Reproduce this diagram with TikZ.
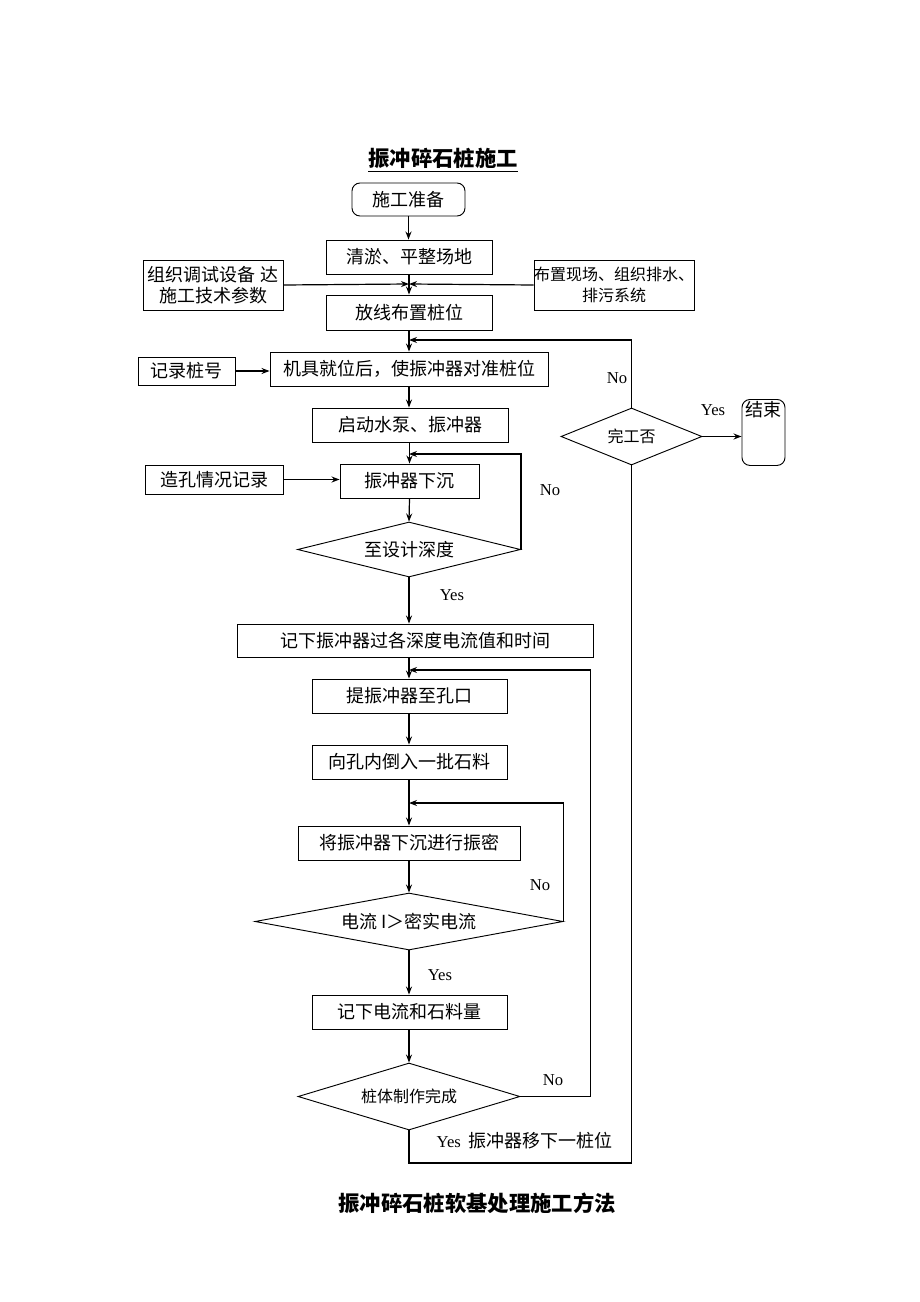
\documentclass[tikz,border=0pt]{standalone}
\usepackage{fontspec}
\setmainfont{Liberation Serif}
\newfontfamily\cjk{Noto Sans CJK SC}
\usepackage{tikz}
\usetikzlibrary{
  positioning,
  calc,
  arrows.meta,
  shapes.geometric
}
\tikzstyle{box}=[draw, line width=0.7pt, inner sep=0pt, font=\cjk\fontsize{13.5}{16}\selectfont]
\tikzstyle{rbox}=[box, rounded corners=6pt]
\tikzstyle{dia}=[draw, diamond, aspect=4, line width=0.7pt, inner sep=0pt, font=\cjk\fontsize{13.5}{16}\selectfont]
\tikzstyle{arr}=[-{Stealth[length=6pt,width=4.5pt]}, line width=0.9pt]
\tikzstyle{conn}=[line width=0.9pt]
\tikzstyle{yn}=[font=\fontsize{12.5}{14}\selectfont]
\tikzstyle{ttl}=[font=\cjk\bfseries\fontsize{16}{19}\selectfont]

\begin{document}
\begin{tikzpicture}[x=0.75pt, y=-0.75pt]
      \path[use as bounding box, fill=white] (0,0) rectangle (920,1302);

      % 标题
      \node[ttl] (title) at (443,160) {\underline{振冲碎石桩施工}};
      \node[ttl] (caption) at (477,1203) {振冲碎石桩软基处理施工方法};

      % 准备阶段
      \node[rbox, minimum width=84.75pt, minimum height=24.75pt] (prep) at (408.5,199.5) {施工准备};
      \node[box, minimum width=124.5pt, minimum height=25.5pt] (clear) at (409,257) {清淤、平整场地};
      \node[box, minimum width=105pt, minimum height=37.5pt, align=center] (equip) at (213,285) {组织调试设备\ 达\\施工技术参数};
      \node[box, minimum width=120pt, minimum height=37.5pt, align=center, font=\cjk\fontsize{12}{16}\selectfont] (site) at (614,285) {布置现场、组织排水、\\排污系统};
      \node[box, minimum width=124.5pt, minimum height=26.25pt] (layout) at (409,312.5) {放线布置桩位};

      % 就位与下沉
      \node[box, minimum width=208.5pt, minimum height=25.5pt] (machine) at (409,369) {机具就位后，使振冲器对准桩位};
      \node[box, minimum width=72.75pt, minimum height=21pt] (pileno) at (186.5,371) {记录桩号};
      \node[box, minimum width=147pt, minimum height=25.5pt] (pump) at (410,425) {启动水泵、振冲器};
      \node[box, minimum width=104.25pt, minimum height=25.5pt] (sink) at (409.5,481) {振冲器下沉};
      \node[box, minimum width=103.5pt, minimum height=21.75pt] (hole) at (214,479.5) {造孔情况记录};
      \node[dia, minimum width=167.25pt, minimum height=41.25pt] (depth) at (409,549.5) {至设计深度};

      % 完工判断
      \node[dia, minimum width=105.75pt, minimum height=42.75pt, font=\cjk\fontsize{12}{14}\selectfont] (done) at (631.5,436.5) {完工否};
      \node[rbox, minimum width=32.25pt, anchor=north, inner ysep=3pt, text height=9.5pt, text depth=34pt] (end) at (763.5,399) {结束};

      % 填料与振密
      \node[box, minimum width=267pt, minimum height=24.75pt] (rec2) at (415,640.5) {记下振冲器过各深度电流值和时间};
      \node[box, minimum width=146.25pt, minimum height=25.5pt] (lift) at (409.5,696) {提振冲器至孔口};
      \node[box, minimum width=146.25pt, minimum height=25.5pt] (pour) at (409.5,762) {向孔内倒入一批石料};
      \node[box, minimum width=166.5pt, minimum height=25.5pt] (vib) at (409,843) {将振冲器下沉进行振密};
      \node[dia, minimum width=231pt, minimum height=42.75pt] (current) at (409,921.5) {电流 I＞密实电流};
      \node[box, minimum width=146.25pt, minimum height=25.5pt] (rec3) at (409.5,1012) {记下电流和石料量};
      \node[dia, minimum width=166.5pt, minimum height=50.25pt, font=\cjk\fontsize{12}{14}\selectfont] (pile) at (409,1096.5) {桩体制作完成};

      % 汇合点
      \coordinate (m1) at (409,284);
      \coordinate (j1) at (409,340);
      \coordinate (j2) at (409,454);
      \coordinate (j3) at (409,670);
      \coordinate (j4) at (409,803);
      \coordinate (b1) at (409,1163);

      % 主流程
      \draw[arr] (prep.south) -- (prep.south |- clear.north);
      \draw[arr] (clear.south) -- (layout.north);
      \draw[arr] (equip.east) -- (m1);
      \draw[arr] (site.west) -- (m1);
      \draw[arr] (layout.south) -- (machine.north);
      \draw[arr] (pileno.east) -- (pileno.east -| machine.west);
      \draw[arr] (machine.south) -- (machine.south |- pump.north);
      \draw[arr] (pump.south -| sink.north) -- (sink.north);
      \draw[arr] (hole.east) -- (hole.east -| sink.west);
      \draw[arr] (sink.south) -- (depth.north);
      \draw[arr] (depth.south) -- (depth.south |- rec2.north);
      \draw[arr] (depth.south |- rec2.south) -- (lift.north -| depth.south);
      \draw[arr] (lift.south -| depth.south) -- (pour.north -| depth.south);
      \draw[conn] (pour.south -| depth.south) -- (j4);
      \draw[arr] (j4) -- (vib.north);
      \draw[arr] (vib.south) -- (current.north);
      \draw[arr] (current.south) -- (current.south |- rec3.north);
      \draw[arr] (current.south |- rec3.south) -- (pile.north);

      % 回路
      \draw[arr] (done.north) |- (j1);
      \draw[arr] (done.east) -- (done.east -| end.west);
      \draw[arr] (depth.east) |- (j2);
      \draw[arr] (current.east) |- (j4);
      \draw[arr] (pile.east) -- ++(70,0) |- (j3);
      \draw[conn] (pile.south) -- (b1) -| (done.south);

      % Yes / No
      \node[yn] (no1) at (617,378) {No};
      \node[yn] (yes1) at (713,410) {Yes};
      \node[yn] (no2) at (550,490) {No};
      \node[yn] (yes2) at (452,595) {Yes};
      \node[yn] (no3) at (540,885) {No};
      \node[yn] (yes3) at (440,975) {Yes};
      \node[yn] (no4) at (553,1080) {No};
      \node[yn, anchor=west] (yes4) at (432,1141) {Yes\hspace{6pt}{\cjk\fontsize{13.5}{16}\selectfont 振冲器移下一桩位}};
\end{tikzpicture}
\end{document}
